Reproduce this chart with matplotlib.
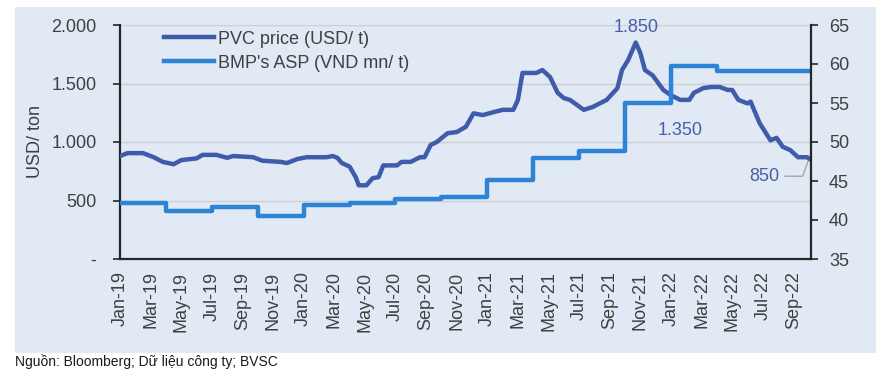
import matplotlib.pyplot as plt
from matplotlib.patches import Rectangle
import numpy as np

# PVC price (USD/t), x = months since Jan-2019
pvc_month = [0.0, 0.5, 1.5, 2.2, 2.8, 3.5, 4.0, 5.0, 5.4, 6.3, 7.0, 7.4, 8.7, 9.3,
             10.5, 10.9, 11.6, 12.2, 13.5, 13.9, 14.2, 14.5, 15.0, 15.4, 15.6, 16.1,
             16.5, 16.9, 17.2, 18.1, 18.4, 19.0, 19.6, 19.9, 20.3, 20.7, 21.4, 22.0,
             22.6, 23.1, 23.7, 24.4, 25.0, 25.7, 26.0, 26.3, 27.2, 27.6, 28.1, 28.6,
             29.0, 29.4, 30.3, 30.9, 31.8, 32.5, 32.8, 33.2, 33.7, 34.0, 34.3, 34.8,
             35.5, 36.0, 36.6, 37.2, 37.5, 38.1, 38.6, 39.2, 39.7, 40.0, 40.4, 41.0,
             41.2, 41.8, 42.5, 42.9, 43.3, 43.8, 44.3, 44.9, 45.1]
pvc_price = [880, 905, 905, 870, 830, 810, 845, 860, 890, 890, 865, 880, 870, 840,
             830, 820, 855, 870, 870, 880, 865, 820, 790, 700, 630, 630,
             690, 700, 800, 800, 830, 830, 870, 870, 975, 1000, 1075, 1085,
             1130, 1245, 1230, 1255, 1275, 1275, 1360, 1590, 1590, 1615, 1555, 1420,
             1375, 1360, 1275, 1300, 1360, 1460, 1615, 1700, 1850, 1760, 1615, 1570,
             1445, 1400, 1360, 1360, 1420, 1460, 1470, 1470, 1445, 1445, 1360, 1330,
             1345, 1160, 1015, 1035, 960, 930, 870, 870, 850]

# BMP's average selling price (VND mn/t), one value per quarter from Q1-2019
asp_quarter = ['Q1-19', 'Q2-19', 'Q3-19', 'Q4-19', 'Q1-20', 'Q2-20', 'Q3-20', 'Q4-20',
               'Q1-21', 'Q2-21', 'Q3-21', 'Q4-21', 'Q1-22', 'Q2-22', 'Q3-22', 'Q4-22']
asp_value = [42.2, 41.1, 41.7, 40.5, 41.9, 42.2, 42.7, 42.9,
             45.1, 48.0, 48.8, 55.0, 59.7, 59.1, 59.1, 59.1]

month_names = ['Jan', 'Feb', 'Mar', 'Apr', 'May', 'Jun', 'Jul', 'Aug', 'Sep', 'Oct', 'Nov', 'Dec']
x_end = 45.15

PVC_COLOR = '#3F5CAB'
ASP_COLOR = '#2D84D6'
TEXT_COLOR = '#404040'
ANNOT_COLOR = '#4A5EA8'

plt.rcParams['font.family'] = ['Liberation Sans', 'DejaVu Sans']

fig = plt.figure(figsize=(8.8, 3.77), dpi=100)
fig.patches.append(Rectangle((15 / 880, 1 - 353 / 377), 861 / 880, 346 / 377,
                             transform=fig.transFigure, facecolor='#E0E9F4',
                             edgecolor='none', zorder=-10))

ax = fig.add_axes([120 / 880, 1 - 259 / 377, 691 / 880, 234 / 377])
ax.set_facecolor('none')
ax2 = ax.twinx()

# PVC price on left axis
ax.plot(pvc_month, pvc_price, color=PVC_COLOR, linewidth=3.2,
        solid_joinstyle='round', solid_capstyle='round', zorder=3)

# ASP on right axis, stepped by quarter
asp_x = list(np.arange(len(asp_value)) * 3.0)
asp_x[-1] = min(asp_x[-1], x_end)
ax2.step(asp_x + [x_end], asp_value + [asp_value[-1]], where='post',
         color=ASP_COLOR, linewidth=3.2, zorder=2)

ax.set_xlim(0, x_end)
ax.set_ylim(0, 2000)
ax2.set_ylim(35, 65)

ax.set_yticks([0, 500, 1000, 1500, 2000])
ax.set_yticklabels(['-', '500', '1.000', '1.500', '2.000'])
ax2.set_yticks([35, 40, 45, 50, 55, 60, 65])

tick_pos = np.arange(0, 45, 2)
tick_lab = [f"{month_names[m % 12]}-{19 + m // 12}" for m in tick_pos]
ax.set_xticks(tick_pos)
ax.set_xticklabels(tick_lab, rotation=90)

ax.grid(axis='y', color='#CFCFCF', linewidth=1)
ax.set_axisbelow(True)

for a in (ax, ax2):
    a.spines['top'].set_visible(False)
    for s in ('left', 'right', 'bottom'):
        a.spines[s].set_color('#262626')
        a.spines[s].set_linewidth(1.6)
ax.spines['right'].set_visible(False)
ax2.spines['left'].set_visible(False)
ax2.spines['bottom'].set_visible(False)

ax.tick_params(axis='y', length=5, width=1.2, pad=12, labelsize=13,
               labelcolor=TEXT_COLOR, color='#262626')
ax2.tick_params(axis='y', length=5, width=1.2, pad=8, labelsize=13,
                labelcolor=TEXT_COLOR, color='#262626')
ax.tick_params(axis='x', length=0, pad=9, labelsize=13, labelcolor=TEXT_COLOR)

ax.set_ylabel('USD/ ton', fontsize=13, color=TEXT_COLOR, labelpad=5)

# legend
handles = [plt.Line2D([], [], color=PVC_COLOR, linewidth=3.2),
           plt.Line2D([], [], color=ASP_COLOR, linewidth=3.2)]
leg = ax.legend(handles, ['PVC price (USD/ t)', "BMP's ASP (VND mn/ t)"],
                loc='upper left', bbox_to_anchor=(0.04, 1.045), frameon=False,
                fontsize=13, handlelength=2.8, handletextpad=0.2,
                labelspacing=0.38, labelcolor=TEXT_COLOR)

# annotations
i_peak = int(np.argmax(pvc_price))
ax.annotate('1.850', xy=(pvc_month[i_peak], pvc_price[i_peak]), xytext=(0, 5),
            textcoords='offset points', ha='center', va='bottom',
            fontsize=13, color=ANNOT_COLOR)
i_trough = pvc_month.index(36.6)
ax.annotate('1.350', xy=(pvc_month[i_trough], pvc_price[i_trough]), xytext=(0, -22),
            textcoords='offset points', ha='center', va='center',
            fontsize=13, color=ANNOT_COLOR)
ax.annotate('850', xy=(pvc_month[-1] - 0.1, pvc_price[-1]), xytext=(-32, -12),
            textcoords='offset points', ha='center', va='center',
            fontsize=13, color=ANNOT_COLOR,
            arrowprops=dict(arrowstyle='-', color='#A6A6A6', linewidth=1,
                            shrinkA=2, shrinkB=1,
                            connectionstyle='angle,angleA=0,angleB=70,rad=0'))

fig.text(15 / 880, 1 - 362 / 377, 'Nguồn: Bloomberg; Dữ liệu công ty; BVSC',
         fontsize=10, color='#1A1A1A', ha='left', va='center')

fig.savefig('out.png', dpi=100)
